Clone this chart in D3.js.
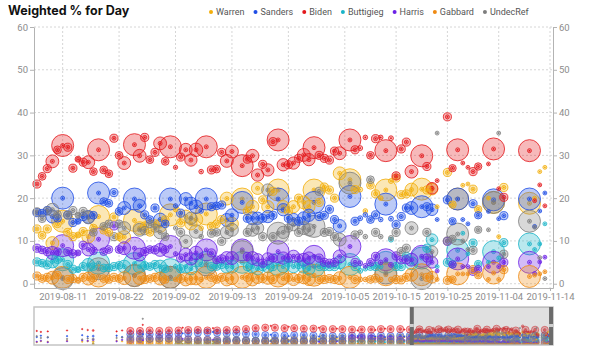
<!DOCTYPE html>
<html>
<head>
<meta charset="utf-8">
<title>Weighted % for Day</title>
<script src="https://cdn.jsdelivr.net/npm/d3@7"></script>
<style>
  body { margin: 0; background: #fff; }
  svg { display: block; font-family: Inter, "Liberation Sans", sans-serif; }
</style>
</head>
<body>
<div id="chart"></div>
<script>
// ---------------------------------------------------------------------------
// Data: one entry per poll, aligned across the arrays (null = not asked)
// ---------------------------------------------------------------------------

const candidates = ['Warren', 'Sanders', 'Biden', 'Buttigieg', 'Harris', 'Gabbard', 'UndecRef'];
const colors     = ['#f3ae0a', '#1f4ee6', '#e3181c', '#19b4c8', '#6c22e6', '#ef8a12', '#7d7d7d'];

const tickDates = ['2019-08-11', '2019-08-22', '2019-09-02', '2019-09-13', '2019-09-24',
                   '2019-10-05', '2019-10-15', '2019-10-25', '2019-11-04', '2019-11-14'];
const yTicks = [0, 10, 20, 30, 40, 50, 60];

const pollDates = [
  // early polls (only visible in the overview strip)
  '2018-11-06','2018-11-09','2018-11-14','2018-11-28','2018-12-09','2018-12-13','2018-12-17','2019-01-03','2019-01-07',
  '2019-01-13','2019-01-20','2019-01-22','2019-01-27','2019-02-03','2019-02-10','2019-02-17','2019-02-20','2019-02-24','2019-03-03',
  '2019-03-10','2019-03-14','2019-03-17','2019-03-24','2019-03-31','2019-04-07','2019-04-14','2019-04-21','2019-04-25','2019-04-28',
  '2019-05-05','2019-05-08','2019-05-12','2019-05-19','2019-05-26','2019-05-30','2019-06-02','2019-06-09','2019-06-12','2019-06-16',
  '2019-06-23','2019-06-27','2019-06-30','2019-07-07','2019-07-10','2019-07-14','2019-07-17','2019-07-21','2019-07-28','2019-07-31',
  '2019-08-04',
  // main window
  '2019-08-06','2019-08-07','2019-08-08','2019-08-09','2019-08-10','2019-08-11','2019-08-12','2019-08-13','2019-08-14','2019-08-15',
  '2019-08-16','2019-08-17','2019-08-18','2019-08-19','2019-08-20','2019-08-21','2019-08-22','2019-08-23','2019-08-25','2019-08-26',
  '2019-08-27','2019-08-28','2019-08-29','2019-08-30','2019-08-31','2019-09-01','2019-09-02','2019-09-03','2019-09-04','2019-09-05',
  '2019-09-06','2019-09-07','2019-09-08','2019-09-09','2019-09-10','2019-09-11','2019-09-12','2019-09-13','2019-09-15','2019-09-16',
  '2019-09-17','2019-09-18','2019-09-19','2019-09-20','2019-09-21','2019-09-22','2019-09-23','2019-09-24','2019-09-25','2019-09-26',
  '2019-09-27','2019-09-28','2019-09-29','2019-09-30','2019-10-01','2019-10-02','2019-10-03','2019-10-04','2019-10-06','2019-10-07',
  '2019-10-08','2019-10-09','2019-10-10','2019-10-11','2019-10-12','2019-10-13','2019-10-14','2019-10-15','2019-10-16','2019-10-17',
  '2019-10-18','2019-10-20','2019-10-21','2019-10-22','2019-10-23','2019-10-25','2019-10-26','2019-10-27','2019-10-28','2019-10-29',
  '2019-10-30','2019-10-31','2019-11-02','2019-11-03','2019-11-04','2019-11-05','2019-11-10','2019-11-11','2019-11-12','2019-11-13'
];

const pollWeights = [
  600,600,600,600,600,700,1200,700,700,
  16000,16000,600,16000,16000,16000,16000,600,16000,16000,
  16000,600,16000,16000,16000,16000,16000,16000,600,16000,
  16000,600,16000,16000,16000,600,16000,16000,600,16000,
  16000,600,16000,16000,600,16000,600,16000,16000,600,
  16000,
  2200,2000,2200,5500,2000,16000,2200,2200,1200,2200,
  5500,2000,16000,2000,2000,2200,2000,5500,16000,5500,
  2200,2000,2200,5500,2000,16000,600,2200,5500,5000,
  6000,700,16000,2200,2000,2200,5500,5500,16000,2200,
  5500,5000,2200,5000,2200,16000,5000,2200,5000,2200,
  5500,5000,16000,2200,2200,2200,2200,5500,16000,2200,
  800,700,2000,2200,700,16000,800,2200,2200,2200,
  5500,16000,2200,4500,500,2200,1800,16000,500,500,
  2200,1800,500,16000,500,2200,16000,500,500,500
];

const warren = [
  5,7,6,8,6,7,6,8,7,
  6,7,6,7,8,7,8,8,7,7,
  7,6,6,7,8,8,8,9,9,9,
  10,10,10,11,12,12,13,13,14,13,
  14,15,14,13,15,14,14,14,15,16,
  15,
  12.8,11.3,12.8,9.5,14.0,14.6,12.0,11.0,11.4,12.2,
  11.0,13.0,15.7,12.5,12.0,15.6,11.0,10.9,14.8,13.0,
  13.5,12.0,14.0,13.5,15.0,16.1,17.3,14.2,15.7,14.0,
  15.0,13.0,16.3,13.4,14.0,15.0,19.9,14.0,19.8,17.0,
  18.0,22.3,19.6,18.0,21.6,21.9,18.0,17.0,18.0,20.0,
  19.0,18.0,21.9,19.0,22.6,21.9,20.0,25.8,24.3,22.0,
  22.0,17.0,23.0,21.0,20.0,21.9,24.0,24.7,20.8,21.0,
  22.0,22.1,21.9,22.1,18.0,26.0,18.5,19.8,23.0,23.3,
  22.1,17.4,20.0,19.0,11.0,22.5,18.8,20.0,26.2,27.2
];

const sanders = [
  16,19,15,18,20,17,18,19,16,
  22,23,22,22,21,22,23,24,24,25,
  26,27,25,24,24,23,22,20,21,19,
  19,18,20,20,19,17,19,18,16,18,
  19,18,18,18,17,19,16,18,19,17,
  19,
  16.6,16.5,17.1,15.7,15.3,20.0,16.1,14.3,14.6,15.7,
  15.6,16.0,21.2,19.2,18.8,21.3,16.9,17.7,19.8,18.2,
  16.1,15.0,17.7,15.0,14.0,19.8,18.2,16.5,19.8,18.8,
  18.0,17.0,19.8,18.0,18.2,18.4,14.9,16.0,19.0,15.3,
  15.3,15.3,15.3,15.7,16.0,19.8,17.3,15.3,15.0,14.6,
  15.3,16.0,19.0,15.7,16.0,17.4,15.0,13.5,20.4,14.6,
  15.3,16.1,15.0,16.1,15.0,18.6,15.2,13.8,15.7,17.7,
  17.7,18.0,18.0,17.3,15.0,19.6,14.6,19.8,15.0,14.0,
  18.7,16.0,16.9,19.6,15.2,15.9,19.8,13.4,17.0,21.2
];

const biden = [
  29,27,28,30,33,31,30,28,30,
  29,29,42,30,29,30,30,36,31,31,
  30,35,30,31,32,33,35,36,40,36,
  35,38,35,34,34,36,33,33,34,33,
  32,30,32,32,31,33,34,33,33,32,
  32,
  23.3,25.1,26.9,28.6,31.3,32.3,31.9,27.0,29.1,28.4,
  28.4,26.2,31.3,26.6,25.7,34.0,30.0,28.2,32.5,29.9,
  34.2,29.0,30.7,32.8,28.6,32.0,27.2,29.6,31.3,28.9,
  31.3,26.2,32.0,26.6,26.8,30.7,28.7,30.9,27.6,29.1,
  29.9,25.4,27.9,26.6,33.2,33.6,27.8,27.8,28.2,29.3,
  30.1,29.0,31.8,30.0,29.3,28.9,31.0,30.5,33.6,31.3,
  31.7,34.2,30.0,33.9,34.2,31.1,34.0,25.2,31.5,33.1,
  26.2,29.9,27.4,22.3,24.1,39.0,27.0,31.3,28.2,27.2,
  26.2,27.4,28.0,31.5,22.2,20.2,31.1,19.4,23.1,18.2
];

const buttigieg = [
  null,null,null,null,null,null,1,null,null,
  null,null,null,null,null,null,1,1,1,2,
  3,2,5,7,8,8,8,7,8,7,
  7,6,6,7,7,7,7,6,8,6,
  6,6,6,6,6,6,5,5,5,6,
  5,
  5.1,4.8,4.4,5.2,5.6,5.6,4.5,3.4,3.3,4.0,
  4.4,4.0,4.8,3.7,3.7,4.0,4.3,4.0,4.7,4.0,
  4.2,4.0,4.5,4.0,3.5,3.3,4.0,3.5,4.0,3.5,
  5.5,4.5,5.0,4.0,4.0,4.5,4.0,4.0,5.0,4.0,
  4.0,3.5,4.0,4.0,4.0,4.5,4.0,5.0,4.0,4.5,
  4.0,3.5,4.0,4.0,4.0,4.0,4.0,5.0,4.5,4.0,
  3.0,3.5,4.0,4.0,4.0,5.0,10.3,4.0,4.0,6.4,
  4.8,6.0,8.3,10.3,4.0,5.0,4.5,7.8,11.8,7.0,
  9.5,4.6,5.0,7.5,6.0,9.6,9.3,8.0,9.3,14.0
];

const harris = [
  6,8,5,7,9,8,10,7,10,
  10,11,9,12,13,13,12,12,11,10,
  10,10,9,8,8,8,7,7,7,7,
  7,8,7,7,7,6,7,7,7,8,
  13,15,14,13,12,12,11,11,10,9,
  10,
  8.3,7.9,7.5,7.2,7.5,8.9,7.5,7.0,7.2,9.0,
  8.0,7.7,10.4,7.5,8.0,13.5,8.0,8.3,8.3,6.8,
  7.5,8.0,7.9,7.9,8.0,8.7,7.0,6.0,6.8,5.8,
  7.2,6.5,7.9,7.2,5.6,5.8,6.0,6.0,7.9,6.4,
  6.0,5.6,4.8,5.8,6.0,7.5,6.0,6.0,6.4,6.0,
  5.6,6.0,6.4,6.0,5.0,4.8,5.0,6.4,8.7,5.0,
  4.8,4.2,5.0,6.4,5.0,5.6,4.4,6.5,5.6,5.6,
  5.6,6.4,6.0,5.0,3.0,9.9,4.5,5.8,4.0,4.0,
  2.9,3.4,4.0,5.0,4.0,5.0,5.0,2.4,5.1,6.2
];

const gabbard = [
  null,null,null,null,null,null,1,null,null,
  1,1,1,1,1,1,1,1,1,1,
  1,1,1,1,1,1,1,1,1,1,
  1,1,1,1,1,1,1,1,1,1,
  2,2,2,2,1,1,1,1,1,1,
  1,
  1.8,1.2,1.5,1.4,2.0,1.5,1.0,1.2,0.8,1.5,
  1.2,1.3,1.8,1.2,1.0,1.5,1.2,1.3,1.9,1.3,
  1.0,1.2,1.5,1.2,1.0,1.5,1.0,1.2,1.0,1.2,
  1.3,1.0,1.5,1.5,1.0,1.5,1.0,1.3,1.5,1.5,
  1.0,1.5,1.2,1.3,1.0,1.8,1.2,1.5,1.0,1.2,
  1.5,1.0,2.0,1.0,1.0,1.2,1.0,1.3,1.5,1.0,
  1.0,1.0,1.0,1.3,1.0,2.1,1.0,1.0,0.9,1.5,
  2.1,2.1,1.5,1.5,1.0,0.8,1.0,2.3,2.3,2.3,
  3.3,2.0,1.0,2.5,1.0,3.3,1.7,2.0,2.3,2.8
];

const undecRef = [
  18,14,16,12,11,13,12,14,15,
  14,13,55,12,12,12,11,9,11,10,
  10,8,10,11,10,9,8,8,7,8,
  8,9,8,8,8,10,8,8,9,8,
  7,8,7,7,9,7,10,7,7,8,
  7,
  16.8,15.2,17.0,17.3,16.2,1.2,16.0,17.1,16.0,16.9,
  15.5,12.0,3.5,13.4,14.0,11.0,14.0,13.0,1.9,12.6,
  12.4,14.0,13.0,12.0,11.0,1.5,13.0,12.0,9.9,15.3,
  12.2,11.0,4.4,11.8,12.0,9.9,12.0,12.6,7.5,12.0,
  12.6,13.0,11.0,21.9,11.0,11.8,12.0,13.0,13.8,12.0,
  13.0,12.6,13.4,21.6,12.0,12.2,11.0,10.3,23.5,11.4,
  12.0,11.0,24.3,12.0,11.0,2.5,10.7,12.0,7.5,8.3,
  13.0,1.2,12.0,7.5,35.2,10.0,10.5,11.6,10.0,8.0,
  7.8,12.6,12.6,19.0,35.2,6.9,14.6,13.2,6.1,1.2
];

// ---------------------------------------------------------------------------
// Setup
// ---------------------------------------------------------------------------

const width = 600, height = 351;
const parseDay = d3.timeParse('%Y-%m-%d');
const axisFont = 'Roboto, "Liberation Sans", sans-serif';

const series = [warren, sanders, biden, buttigieg, harris, gabbard, undecRef];
const points = [];
pollDates.forEach((d, i) => {
  series.forEach((values, j) => {
    if (values[i] == null) return;
    points.push({ date: parseDay(d), weight: pollWeights[i], value: values[i], color: colors[j] });
  });
});
points.sort((a, b) => b.weight - a.weight);   // big bubbles underneath

const svg = d3.select('#chart').append('svg')
  .attr('width', width)
  .attr('height', height)
  .attr('viewBox', [0, 0, width, height]);

const x = d3.scaleTime().domain([new Date(2019, 7, 5, 10), new Date(2019, 10, 14, 14)]).range([34, 553]);
const y = d3.scaleLinear().domain([-1, 60]).range([288, 27]);
const r = d3.scaleSqrt().domain([0, 16000]).range([0, 11]);

const xm = d3.scaleTime().domain([new Date(2018, 10, 4), new Date(2019, 10, 16)]).range([34, 553]);
const ym = d3.scaleLinear().domain([-1, 78]).range([345, 308]);
const rm = d3.scaleSqrt().domain([0, 16000]).range([0, 3.6]);

const defs = svg.append('defs');
defs.append('clipPath').attr('id', 'clip-mini')
  .append('rect').attr('x', 34).attr('y', 307).attr('width', 519).attr('height', 38);

// title + legend
svg.append('text')
  .attr('x', 8).attr('y', 15)
  .attr('font-size', 12.5).attr('font-weight', 700).attr('fill', '#111')
  .text('Weighted % for Day');

const legend = svg.append('g').attr('transform', 'translate(0,12)');
let lx = 211;
candidates.forEach((name, i) => {
  legend.append('circle').attr('cx', lx).attr('cy', 0).attr('r', 2).attr('fill', colors[i]);
  const t = legend.append('text')
    .attr('x', lx + 5).attr('y', 3)
    .attr('font-size', 9).attr('font-family', axisFont).attr('fill', '#555')
    .text(name);
  lx += 5 + t.node().getComputedTextLength() + 11;
});

// grid
const grid = svg.append('g').attr('stroke', '#d6d6d6').attr('stroke-dasharray', '2,2');
grid.selectAll('.h').data(yTicks).join('line')
  .attr('x1', 34).attr('x2', 553)
  .attr('y1', d => y(d)).attr('y2', d => y(d));
grid.selectAll('.v').data(tickDates.map(parseDay)).join('line')
  .attr('x1', d => x(d)).attr('x2', d => x(d))
  .attr('y1', 27).attr('y2', 288);

// bubbles
function drawBubbles(g, data, xs, ys, rs, o) {
  const node = g.selectAll('g').data(data).join('g')
    .attr('transform', d => `translate(${xs(d.date)},${ys(d.value)})`);
  node.append('circle')
    .attr('r', d => rs(d.weight))
    .attr('fill', d => d.color).attr('fill-opacity', 0.3)
    .attr('stroke', d => d.color).attr('stroke-opacity', 0.8).attr('stroke-width', o.stroke);
  node.filter(d => rs(d.weight) >= o.ringMin).append('circle')
    .attr('r', o.ring)
    .attr('fill', d => d.color).attr('fill-opacity', 0.25)
    .attr('stroke', d => d.color).attr('stroke-width', o.stroke * 0.8);
  node.append('circle').attr('r', o.dot).attr('fill', d => d.color);
}

const [d0, d1] = x.domain();
drawBubbles(svg.append('g'), points.filter(d => d.date >= d0 && d.date <= d1), x, y, r,
  { stroke: 1, ring: 2, ringMin: 3, dot: 0.9 });

// axes
function styleAxis(g) {
  g.select('.domain').attr('stroke', '#b3b3b3');
  g.selectAll('.tick line').attr('stroke', '#b3b3b3');
  g.selectAll('.tick text').attr('fill', '#8c8c8c').attr('font-size', 9.5)
    .attr('font-family', axisFont);
}

svg.append('g').attr('transform', 'translate(0,288)')
  .call(d3.axisBottom(x).tickValues(tickDates.map(parseDay))
    .tickFormat(d3.timeFormat('%Y-%m-%d')).tickSize(3).tickPadding(2).tickSizeOuter(0))
  .call(styleAxis);

svg.append('g').attr('transform', 'translate(34,0)')
  .call(d3.axisLeft(y).tickValues(yTicks).tickSize(4).tickPadding(2).tickSizeOuter(0))
  .call(styleAxis);

svg.append('g').attr('transform', 'translate(553,0)')
  .call(d3.axisRight(y).tickValues(yTicks).tickSize(4).tickPadding(2).tickSizeOuter(0))
  .call(styleAxis);

// overview strip with brush
const mini = svg.append('g');
drawBubbles(mini.append('g').attr('clip-path', 'url(#clip-mini)'), points, xm, ym, rm,
  { stroke: 0.7, ring: 1.4, ringMin: 2.5, dot: 0.6 });

mini.append('rect')
  .attr('x', 34).attr('y', 307).attr('width', 519).attr('height', 38)
  .attr('fill', 'none').attr('stroke', '#c4c4c4').attr('stroke-width', 1.5);

const brush = d3.brushX().extent([[34, 307], [553, 345]]);
const brushG = mini.append('g').attr('class', 'brush').call(brush);
const sel = [xm(d0), xm(d1)];
brushG.call(brush.move, sel);
brushG.select('.selection')
  .attr('fill', '#888').attr('fill-opacity', 0.26).attr('stroke', 'none');

sel.forEach(px => {
  brushG.append('rect')
    .attr('x', px - 2).attr('y', 307).attr('width', 4).attr('height', 38)
    .attr('fill', '#6b6b6b');
  brushG.append('rect')
    .attr('x', px - 2).attr('y', 324).attr('width', 4).attr('height', 3)
    .attr('fill', '#cfcfcf');
});
</script>
</body>
</html>
